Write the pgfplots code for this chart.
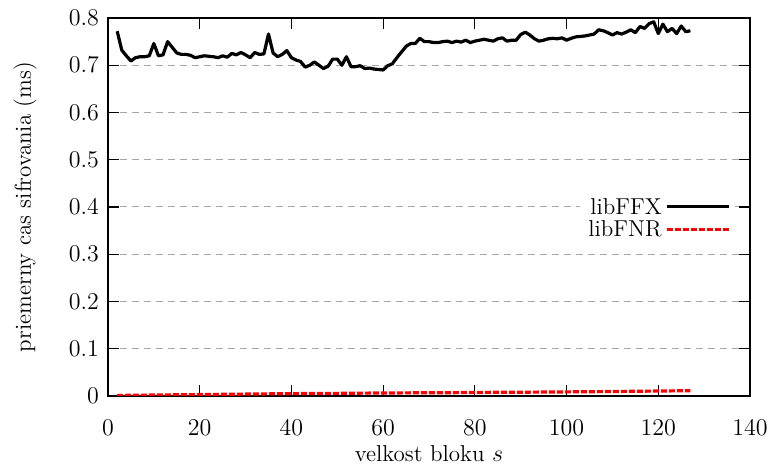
\documentclass[border=0pt]{standalone}
\usepackage{pgfplots}
\pgfplotsset{compat=1.18}
\begin{document}
\fontsize{11.5}{14}\selectfont
\begin{tikzpicture}
\begin{axis}[
  scale only axis,
  width=321pt, height=189pt,
  xmin=0, xmax=140, ymin=0, ymax=0.8,
  xtick={0,20,...,140},
  ytick={0,0.1,...,0.8},
  yticklabel style={/pgf/number format/fixed,/pgf/number format/precision=1},
  scaled y ticks=false,
  tick align=inside,
  major tick length=5.5pt,
  tick style={black, line width=0.6pt},
  axis line style={line width=0.7pt},
  ymajorgrids=true,
  xmajorgrids=false,
  major grid style={gray!70, line width=0.5pt, dash pattern=on 3.5pt off 2.5pt},
  xlabel={velkost bloku $s$},
  ylabel={priemerny cas sifrovania (ms)},
  xlabel style={at={(axis description cs:0.5,-0.152)}, anchor=center},
  ylabel style={at={(axis description cs:-0.129,0.5)}, anchor=center},
  xticklabel style={yshift=-8pt},
  yticklabel style={xshift=-0.5pt},
  tick label style={font=\fontsize{11.5}{14}\selectfont},
  label style={font=\fontsize{11.5}{14}\selectfont},
  legend style={at={(axis description cs:0.977,0.471)}, anchor=east, draw=none, fill=white,
    font=\fontsize{11.5}{14}\selectfont, row sep=2.8pt, inner sep=2pt,
    nodes={text height=7.6pt, text depth=0pt, inner ysep=0.4pt}},
  legend cell align=right,
  legend plot pos=right,
  legend image code/.code={\draw[#1] (0pt,0pt) -- (31pt,0pt);},
]
\addplot[black, line width=1.6pt, line join=round] coordinates {
(2,0.772)(3,0.732)(4,0.72)(5,0.709)(6,0.716)(7,0.718)(8,0.718)(9,0.72)(10,0.746)
(11,0.72)(12,0.722)(13,0.75)(14,0.738)(15,0.726)(16,0.723)(17,0.723)(18,0.721)(19,0.716)(20,0.718)
(21,0.72)(22,0.719)(23,0.718)(24,0.716)(25,0.72)(26,0.717)(27,0.725)(28,0.722)(29,0.727)(30,0.722)
(31,0.716)(32,0.727)(33,0.723)(34,0.724)(35,0.766)(36,0.726)(37,0.718)(38,0.723)(39,0.731)(40,0.716)
(41,0.711)(42,0.708)(43,0.696)(44,0.700)(45,0.707)(46,0.700)(47,0.693)(48,0.698)(49,0.713)(50,0.713)
(51,0.700)(52,0.718)(53,0.697)(54,0.697)(55,0.699)(56,0.693)(57,0.694)(58,0.692)(59,0.691)(60,0.690)
(61,0.699)(62,0.703)(63,0.716)(64,0.728)(65,0.740)(66,0.746)(67,0.746)(68,0.757)(69,0.750)(70,0.750)
(71,0.748)(72,0.748)(73,0.750)(74,0.751)(75,0.748)(76,0.751)(77,0.749)(78,0.753)(79,0.748)(80,0.751)
(81,0.753)(82,0.755)(83,0.753)(84,0.751)(85,0.756)(86,0.758)(87,0.751)(88,0.753)(89,0.753)(90,0.765)
(91,0.770)(92,0.764)(93,0.756)(94,0.751)(95,0.753)(96,0.756)(97,0.757)(98,0.756)(99,0.758)(100,0.753)
(101,0.757)(102,0.760)(103,0.761)(104,0.762)(105,0.764)(106,0.766)(107,0.775)(108,0.773)(109,0.769)(110,0.764)
(111,0.769)(112,0.766)(113,0.770)(114,0.775)(115,0.769)(116,0.782)(117,0.778)(118,0.788)(119,0.792)(120,0.767)
(121,0.787)(122,0.771)(123,0.778)(124,0.767)(125,0.783)(126,0.771)(127,0.773)
};
\addlegendentry{libFFX}
\addplot[red, line width=1.6pt, dash pattern=on 3pt off 1pt] coordinates {
(2,0.001)(5,0.0015)(10,0.002)(15,0.0025)(20,0.003)(25,0.0035)(30,0.004)(35,0.0045)(40,0.005)
(45,0.0052)(50,0.0055)(55,0.006)(60,0.0063)(65,0.0066)(70,0.0068)(75,0.007)(80,0.0075)(85,0.0078)
(90,0.008)(95,0.0083)(100,0.0087)(105,0.009)(110,0.0095)(115,0.01)(120,0.0105)(125,0.011)(127,0.0112)
};
\addlegendentry{libFNR}
\end{axis}
\pgfresetboundingbox
\path ([xshift=-54pt,yshift=-35pt]current axis.south west) rectangle ([xshift=9pt,yshift=9pt]current axis.north east);
\end{tikzpicture}
\end{document}
